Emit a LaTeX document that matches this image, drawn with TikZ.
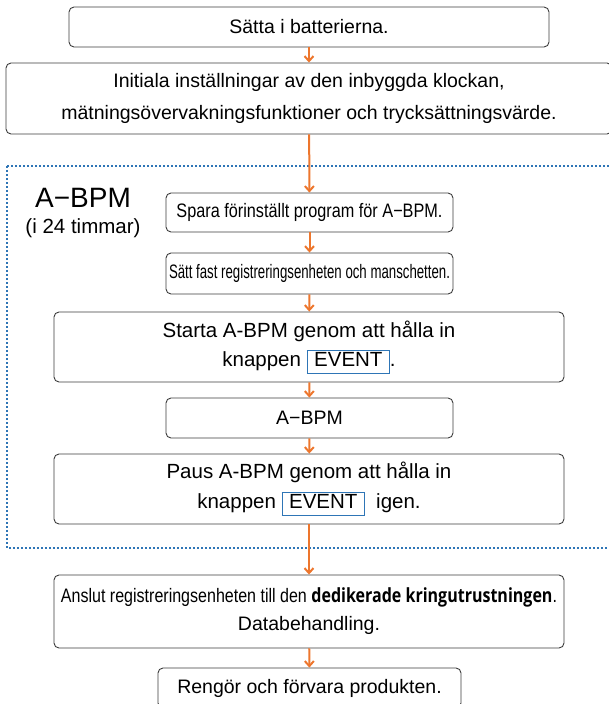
\documentclass[tikz,border=0pt]{standalone}
\usepackage{fontspec}
\setmainfont{Liberation Sans}
\newfontfamily\kringfont{Open Sans}
\usetikzlibrary{arrows.meta}

\definecolor{flowOrange}{RGB}{237,118,45}
\definecolor{frameBlue}{RGB}{46,117,182}
\definecolor{boxGray}{RGB}{60,60,60}

\newcommand{\eventkey}{{\setlength{\fboxrule}{0.9pt}\setlength{\fboxsep}{1.5pt}%
  \fcolorbox{frameBlue}{white}{\hspace{5pt}\rule[-5pt]{0pt}{19pt}EVENT\hspace{5pt}}}}
\newcommand{\squeeze}[2]{\resizebox{#1}{\height}{#2}}

\begin{document}
\begin{tikzpicture}[x=1pt, y=-1pt,
  stepbox/.style={draw=boxGray, rounded corners=5pt, line width=0.9pt, align=center,
    inner sep=0pt, font=\fontsize{19.5}{29}\selectfont},
  flow/.style={flowOrange, line width=2pt, -{Straight Barb[length=5pt,width=9pt]}},
  frame/.style={frameBlue, line width=2.2pt, dash pattern=on 2pt off 2pt}]
\useasboundingbox (0,0) rectangle (609,704);
\clip (0,0) rectangle (609,704);
%% A-BPM frame
\draw[frame] (7,166) rectangle (640,548);
\node[font=\fontsize{28}{30}\selectfont] (lbl) at (83,198) {A−BPM};
\node[font=\fontsize{20.5}{22}\selectfont] (lblsub) at (83,228) {(i 24 timmar)};
%% steps
\node[stepbox, minimum width=480pt, minimum height=40pt] (batt) at (309,27) {Sätta i batterierna.};
\node[stepbox, minimum width=606pt, minimum height=71pt, font=\fontsize{19.5}{32}\selectfont] (init) at (309,98.5)
  {Initiala inställningar av den inbyggda klockan,\\mätningsövervakningsfunktioner och trycksättningsvärde.};
\node[stepbox, minimum width=287pt, minimum height=39pt] (spara) at (309.5,212.5)
  {\squeeze{266pt}{Spara förinställt program för A−BPM.}};
\node[stepbox, minimum width=287pt, minimum height=41pt] (fast) at (309.5,273.5)
  {\squeeze{281pt}{Sätt fast registreringsenheten och manschetten.}};
\node[stepbox, minimum width=510pt, minimum height=70pt, font=\fontsize{20.5}{29}\selectfont] (start) at (309,347)
  {Starta A-BPM genom att hålla in\\knappen \eventkey.};
\node[stepbox, minimum width=287pt, minimum height=40pt] (abpm) at (309.5,418) {A−BPM};
\node[stepbox, minimum width=510pt, minimum height=70pt, font=\fontsize{20.5}{30}\selectfont] (paus) at (309,489)
  {Paus A-BPM genom att hålla in\\knappen\ \eventkey\ \ igen.};
\node[stepbox, minimum width=510pt, minimum height=73pt, font=\fontsize{19.5}{28}\selectfont] (anslut) at (309,611.5)
  {\squeeze{496pt}{Anslut registreringsenheten till den {\kringfont\bfseries dedikerade kringutrustningen}.}\\Databehandling.};
\node[stepbox, minimum width=303pt, minimum height=40pt] (rengor) at (309.5,688) {Rengör och förvara produkten.};
%% connectors
\draw[flow] (batt) -- (init);
\draw[flow] (init) -- (spara);
\draw[flow] (spara) -- (fast);
\draw[flow] (fast) -- (start);
\draw[flow] (start) -- (abpm);
\draw[flow] (abpm) -- (paus);
\draw[flow] (paus) -- (anslut);
\draw[flow] (anslut) -- (rengor);
\end{tikzpicture}
\end{document}
